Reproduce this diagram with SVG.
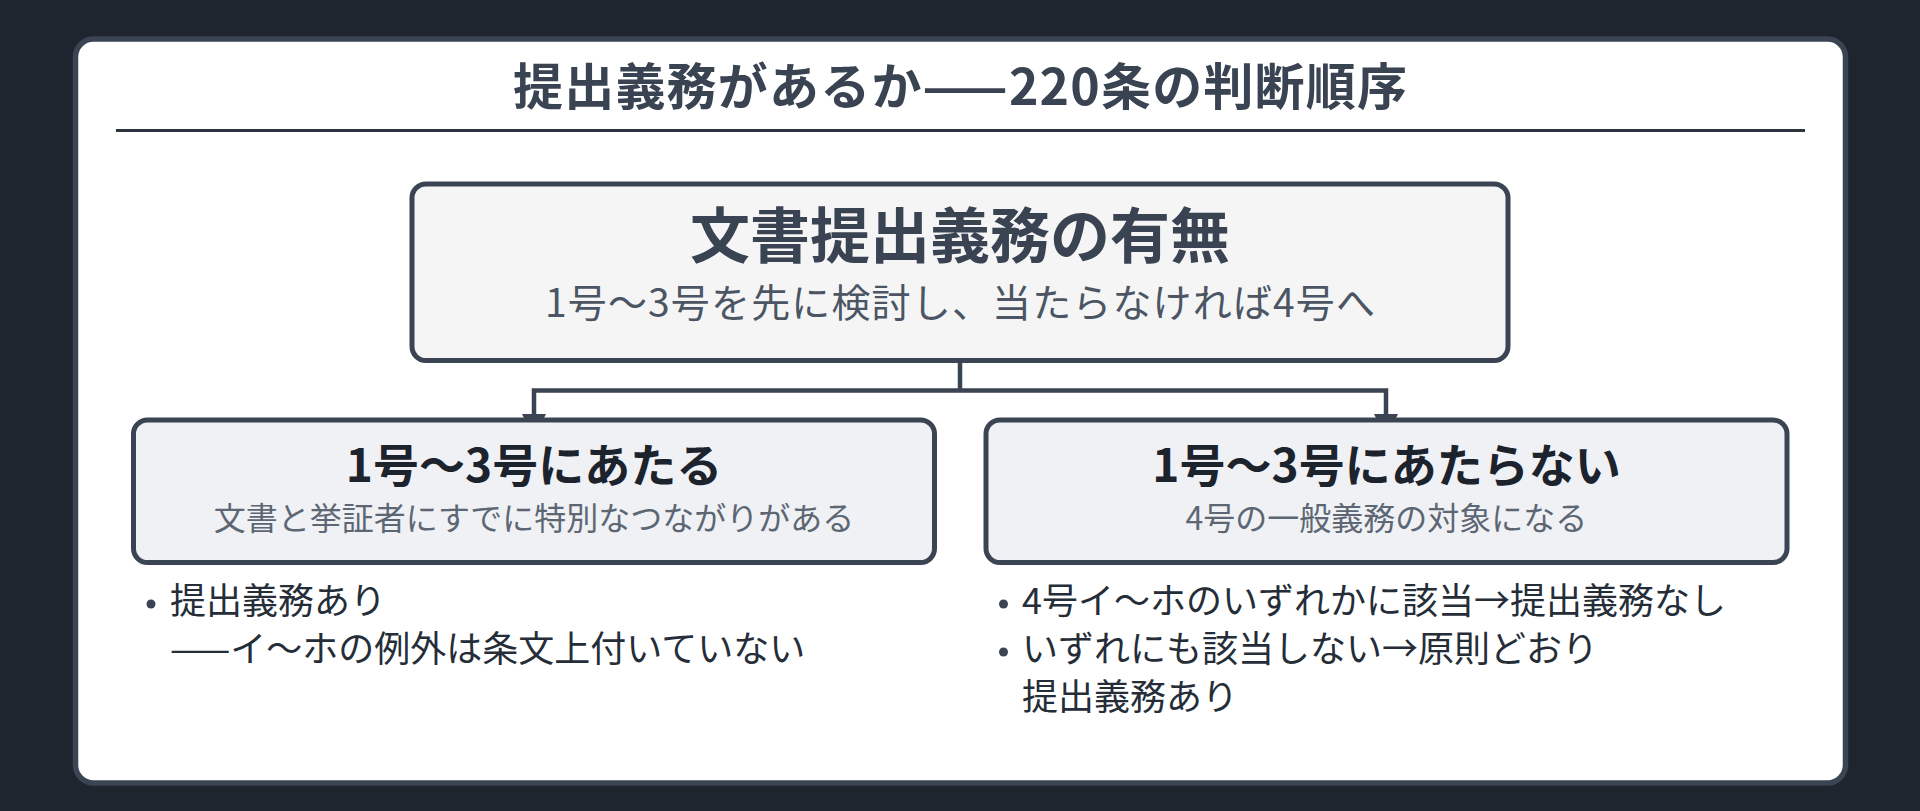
<svg xmlns="http://www.w3.org/2000/svg" width="1920" height="811" viewBox="0 0 1920 811">
  <defs>
    <style>
      .jp { font-family: "Noto Sans CJK JP", "Noto Sans", sans-serif; }
      .h1 { font-size: 50px; font-weight: 700; fill: #3a4352; text-anchor: middle; }
      .mt { font-size: 60px; font-weight: 700; fill: #3a4352; text-anchor: middle; }
      .ms { font-size: 39px; font-weight: 400; fill: #4b5563; text-anchor: middle; }
      .ct { font-size: 46px; font-weight: 700; fill: #1c232d; text-anchor: middle; }
      .cs { font-size: 32px; font-weight: 400; fill: #5d6673; text-anchor: middle; }
      .bl { font-size: 36px; font-weight: 400; fill: #252d38; }
      .node { stroke: #3b4452; stroke-width: 5; }
      .conn { fill: none; stroke: #3b4452; stroke-width: 4.5; }
      .dot { fill: #3b4452; }
    </style>
    <marker id="arr" markerUnits="userSpaceOnUse" markerWidth="26" markerHeight="26" refX="24" refY="12" orient="auto">
      <path d="M0,0 L24,12 L0,24 z" fill="#3b4452"/>
    </marker>
  </defs>

  <rect x="0" y="0" width="1920" height="811" fill="#1e252f"/>
  <rect x="75.5" y="39" width="1770" height="744" rx="18" fill="#ffffff" stroke="#3b4452" stroke-width="5.5"/>

  <g id="title">
    <text class="jp h1" x="960" y="105" textLength="894" lengthAdjust="spacing">提出義務があるか——220条の判断順序</text>
    <line x1="116" y1="130.5" x2="1805" y2="130.5" stroke="#2d3440" stroke-width="2.8"/>
  </g>

  <g id="connectors">
    <path class="conn" d="M960,362 V390.5"/>
    <path class="conn" d="M960,390.5 H534 V438" marker-end="url(#arr)"/>
    <path class="conn" d="M960,390.5 H1386 V438" marker-end="url(#arr)"/>
  </g>

  <g id="node-root">
    <rect class="node" x="412" y="184" width="1096" height="176.5" rx="14" fill="#f5f5f6"/>
    <text class="jp mt" x="960" y="258">文書提出義務の有無</text>
    <text class="jp ms" x="960" y="317" textLength="830" lengthAdjust="spacing">1号〜3号を先に検討し、当たらなければ4号へ</text>
  </g>

  <g id="node-left">
    <rect class="node" x="133.5" y="420" width="801" height="142.5" rx="14" fill="#eff1f5"/>
    <text class="jp ct" x="534" y="482">1号〜3号にあたる</text>
    <text class="jp cs" x="534" y="530">文書と挙証者にすでに特別なつながりがある</text>
  </g>

  <g id="node-right">
    <rect class="node" x="986" y="420" width="801" height="142.5" rx="14" fill="#eff1f5"/>
    <text class="jp ct" x="1386.5" y="482">1号〜3号にあたらない</text>
    <text class="jp cs" x="1386.5" y="530">4号の一般義務の対象になる</text>
  </g>

  <g id="notes-left">
    <circle class="dot" cx="151" cy="604" r="4.5"/>
    <text class="jp bl" x="170" y="614">提出義務あり</text>
    <text class="jp bl" x="170" y="662">——イ〜ホの例外は条文上付いていない</text>
  </g>

  <g id="notes-right">
    <circle class="dot" cx="1003.5" cy="604" r="4.5"/>
    <text class="jp bl" x="1022" y="614">4号イ〜ホのいずれかに該当→提出義務なし</text>
    <circle class="dot" cx="1003.5" cy="652" r="4.5"/>
    <text class="jp bl" x="1022" y="662">いずれにも該当しない→原則どおり</text>
    <text class="jp bl" x="1022" y="710">提出義務あり</text>
  </g>
</svg>
